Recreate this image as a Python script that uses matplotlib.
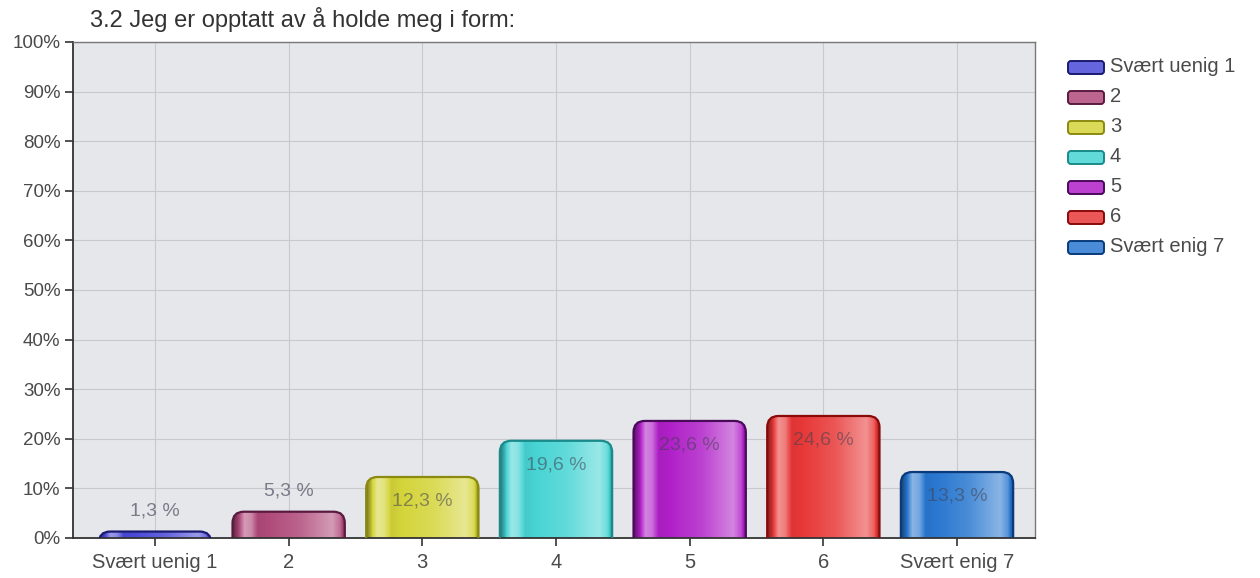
import matplotlib.pyplot as plt
import numpy as np
from matplotlib.colors import to_rgb
from matplotlib.patches import FancyBboxPatch

plt.rcParams['font.family'] = ['Liberation Sans', 'DejaVu Sans']

title = '3.2 Jeg er opptatt av å holde meg i form:'
categories = ['Svært uenig 1', '2', '3', '4', '5', '6', 'Svært enig 7']
values = [1.3, 5.3, 12.3, 19.6, 23.6, 24.6, 13.3]
colors = ['#4a4ad8', '#b04a7a', '#d4d43a', '#48d4d4', '#b020c8', '#e83838', '#2a78d0']
edges = ['#1a1a70', '#5a1a40', '#8a8a10', '#1a8a8a', '#4a0a5a', '#8a0a0a', '#0a3a7a']

# horizontal shading profile for the "glossy" bars
STOPS = [(0.0, 0.55), (0.04, 0.85), (0.1, 1.45), (0.16, 1.35), (0.22, 0.95),
         (0.6, 1.15), (0.88, 1.45), (0.95, 1.2), (1.0, 0.6)]


def shade(rgb, f):
    rgb = np.array(rgb)
    if f < 1:
        return rgb * f
    return rgb + (1 - rgb) * (f - 1)


def gradient(color, n=200):
    rgb = to_rgb(color)
    xs = np.linspace(0, 1, n)
    sp, sf = zip(*STOPS)
    fs = np.interp(xs, sp, sf)
    return np.array([shade(rgb, f) for f in fs])[None, :, :]


fig = plt.figure(figsize=(12.6, 5.78), dpi=100)
ax = fig.add_axes([73 / 1260, 1 - 538 / 578, 962 / 1260, 496 / 578])
ax.set_facecolor('#e6e7ea')

xs = np.arange(len(categories))
width = 0.84
px_x = 962 / (6 + 82 / 133.7 + 78 / 133.7)
px_y = 496 / 100
aspect = px_x / px_y

for x, v, c, e in zip(xs, values, colors, edges):
    x0 = x - width / 2
    patch = FancyBboxPatch((x0, -6), width, v + 6,
                           boxstyle='round,pad=0,rounding_size=0.085',
                           mutation_aspect=aspect, facecolor='none',
                           edgecolor=e, linewidth=1.6, zorder=3)
    ax.add_patch(patch)
    im = ax.imshow(gradient(c), extent=(x0, x0 + width, -6, v),
                   aspect='auto', zorder=2, interpolation='bilinear')
    im.set_clip_path(patch)
    label = f'{v:.1f} %'.replace('.', ',')
    if v > 8:
        ax.text(x, v - 4.8, label, ha='center', va='center', fontsize=14,
                color='#404050', alpha=0.55, zorder=4)
    else:
        ax.text(x, v + 4.2, label, ha='center', va='center', fontsize=14,
                color='#7a7a88', zorder=4)

ax.set_xlim(-82 / 133.7, 6 + 78 / 133.7)
ax.set_ylim(0, 100)
ax.set_yticks(np.arange(0, 101, 10))
ax.set_yticklabels([f'{t}%' for t in range(0, 101, 10)])
ax.set_xticks(xs)
ax.set_xticklabels(categories)
ax.tick_params(colors='#333333', length=6, width=1.2, labelcolor='#4a4a4a')
ax.tick_params(axis='y', labelsize=13.5, pad=3)
ax.tick_params(axis='x', labelsize=14.5, pad=5)
ax.grid(True, color='#c8c9cc', linewidth=0.8, zorder=0)
ax.set_axisbelow(True)
for side in ['left', 'bottom']:
    ax.spines[side].set_color('#333333')
    ax.spines[side].set_linewidth(1.3)
for side in ['top', 'right']:
    ax.spines[side].set_color('#777777')
    ax.spines[side].set_linewidth(1.0)

fig.text(90 / 1260, 1 - 20 / 578, title, fontsize=17, color='#333333',
         ha='left', va='center')

# legend drawn by hand so the keys keep the rounded look
lax = fig.add_axes([0, 0, 1, 1], facecolor='none')
lax.set_xlim(0, 1260)
lax.set_ylim(578, 0)
lax.axis('off')
for i, (name, c, e) in enumerate(zip(categories, colors, edges)):
    y = 67 + i * 30
    key = FancyBboxPatch((1068, y - 6), 36, 13,
                         boxstyle='round,pad=0,rounding_size=3',
                         facecolor=shade(to_rgb(c), 1.15), edgecolor=e,
                         linewidth=1.4)
    lax.add_patch(key)
    lax.text(1110, y, name, fontsize=14.5, color='#4a4a4a', va='center',
             ha='left')

fig.savefig('out.png', dpi=100)
